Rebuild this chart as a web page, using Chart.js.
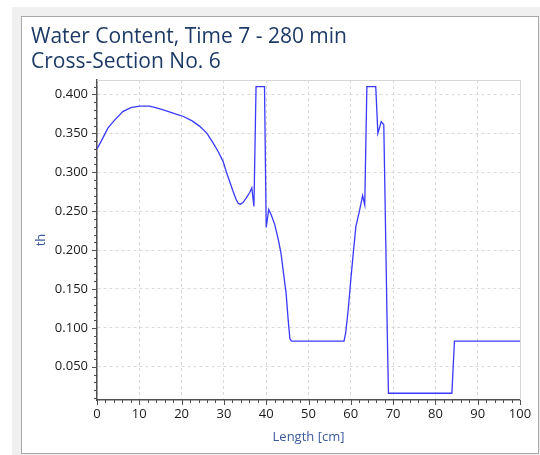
<!DOCTYPE html>
<html>
<head>
<meta charset="utf-8">
<script src="https://cdn.jsdelivr.net/npm/chart.js@4.4.1/dist/chart.umd.min.js"></script>
<style>
  html, body { margin: 0; padding: 0; background: #ffffff; }
  #back { position: absolute; left: 12px; top: 7px; width: 528px; height: 448px; background: #f0f0f0; }
  #panel { position: absolute; left: 21px; top: 16px; width: 516px; height: 436px;
           border: 1px solid #a9a9a9; background: #ffffff; }
  #panel canvas { display: block; }
</style>
</head>
<body>
<div id="back"></div>
<div id="panel"><canvas id="chart" width="516" height="436"></canvas></div>
<script>
// values
const lengthCm = [
  0, 1, 2.6, 4, 6.1, 8, 10.1, 12.4, 14.5, 16.4, 18.5, 20.3, 22.5, 24.3, 26, 27.4,
  28.7, 29.8, 30.6, 31.3, 32.2, 32.9, 33.4, 33.9, 34.5, 35.3, 36.1, 36.6, 37.1,
  37.6, 39.6, 40.0, 40.6, 41.2, 42.0, 42.8, 43.5, 44.1, 44.7, 45.2, 45.6, 46.0,
  58.4, 58.8, 59.4, 60.0, 60.6, 61.2, 62.0, 62.8, 63.3, 63.8, 65.9, 66.4, 67.2,
  67.8, 68.3, 68.6, 68.9, 83.9, 84.5, 100
];
const theta = [
  0.330, 0.340, 0.357, 0.366, 0.378, 0.383, 0.385, 0.385, 0.382, 0.379, 0.375, 0.372, 0.366, 0.359, 0.350, 0.338,
  0.326, 0.314, 0.300, 0.289, 0.275, 0.265, 0.260, 0.259, 0.261, 0.267, 0.274, 0.280, 0.256,
  0.410, 0.410, 0.229, 0.252, 0.245, 0.233, 0.215, 0.196, 0.170, 0.145, 0.110, 0.086, 0.083,
  0.083, 0.094, 0.124, 0.162, 0.197, 0.230, 0.249, 0.270, 0.258, 0.410, 0.410, 0.350, 0.365,
  0.361, 0.200, 0.100, 0.016, 0.016, 0.083, 0.083
];
const yTickValues = [0.05, 0.10, 0.15, 0.20, 0.25, 0.30, 0.35, 0.40];
const titleLines = ['Water Content, Time 7 - 280 min', 'Cross-Section No. 6'];

const FONT = "'Open Sans', 'Noto Sans', sans-serif";

// minor / major tick marks drawn outside the plot, plus light frame on top/right
const tickMarks = {
  id: 'tickMarks',
  afterDraw(chart) {
    const ctx = chart.ctx;
    const area = chart.chartArea;
    const xs = chart.scales.x, ys = chart.scales.y;
    ctx.save();
    ctx.strokeStyle = '#d6d6d6';
    ctx.lineWidth = 1;
    ctx.beginPath();
    ctx.moveTo(area.left, area.top + 0.5);
    ctx.lineTo(area.right + 0.5, area.top + 0.5);
    ctx.lineTo(area.right + 0.5, area.bottom);
    ctx.stroke();

    ctx.strokeStyle = '#505050';
    ctx.lineWidth = 1;
    ctx.beginPath();
    for (let v = 0; v <= 100; v += 2) {
      const px = Math.round(xs.getPixelForValue(v)) + 0.5;
      const len = (v % 10 === 0) ? 5 : 3;
      ctx.moveTo(px, area.bottom);
      ctx.lineTo(px, area.bottom + len);
    }
    for (let i = 1; i <= 41; i++) {
      const v = i / 100;
      const py = Math.round(ys.getPixelForValue(v)) + 0.5;
      const len = (i % 5 === 0) ? 5 : 3;
      ctx.moveTo(area.left, py);
      ctx.lineTo(area.left - len, py);
    }
    ctx.stroke();
    ctx.restore();
  }
};

const points = lengthCm.map((x, i) => ({ x: x, y: theta[i] }));

new Chart(document.getElementById('chart'), {
  type: 'line',
  data: {
    datasets: [{
      data: points,
      borderColor: '#3a3aff',
      borderWidth: 1.3,
      pointRadius: 0,
      tension: 0,
      fill: false
    }]
  },
  options: {
    responsive: false,
    animation: false,
    layout: { padding: { left: 9, right: 18, top: 8, bottom: 0 } },
    plugins: {
      legend: { display: false },
      tooltip: { enabled: false },
      title: {
        display: true,
        text: titleLines,
        align: 'start',
        color: '#1d3a66',
        font: { family: FONT, size: 21, weight: 'normal', lineHeight: 1.19 },
        padding: { top: 0, bottom: 5 }
      }
    },
    scales: {
      x: {
        type: 'linear',
        min: 0,
        max: 100,
        ticks: { stepSize: 10, color: '#1a1a1a', padding: 6, font: { family: FONT, size: 13 } },
        grid: { color: '#d9d9d9', drawTicks: false },
        border: { display: true, color: '#505050', width: 1.5, dash: [3, 3] },
        title: {
          display: true, text: 'Length [cm]', color: '#3d5a9c',
          font: { family: FONT, size: 13 }, padding: { top: 4, bottom: 8 }
        },
        afterFit(scale) { scale.height = 53; }
      },
      y: {
        type: 'linear',
        min: 0.0073,
        max: 0.4186,
        afterBuildTicks(scale) { scale.ticks = yTickValues.map(v => ({ value: v })); },
        ticks: {
          color: '#1a1a1a', padding: 9, font: { family: FONT, size: 13 },
          callback: v => Number(v).toFixed(3)
        },
        grid: { color: '#d9d9d9', drawTicks: false },
        border: { display: true, color: '#505050', width: 1.5, dash: [3, 3] },
        title: {
          display: true, text: 'th', color: '#3d5a9c',
          font: { family: FONT, size: 13 }, padding: { top: 2, bottom: 0 }
        },
        afterFit(scale) { scale.width = 66; }
      }
    }
  },
  plugins: [tickMarks]
});
</script>
</body>
</html>
